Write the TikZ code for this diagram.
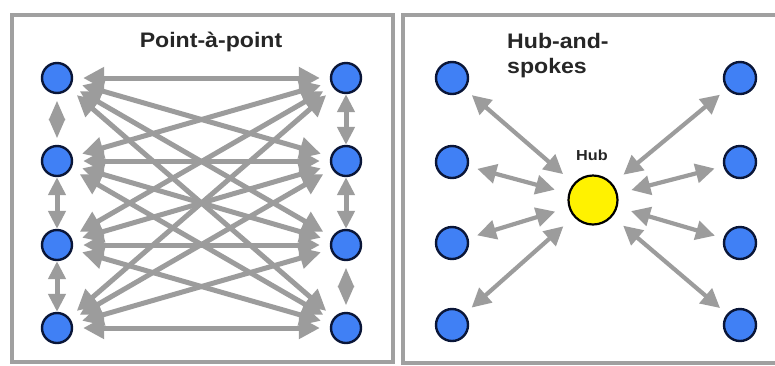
\documentclass[tikz,border=0pt]{standalone}
\usepackage{fontspec}
\setmainfont{Liberation Sans}
\usetikzlibrary{arrows.meta}
\definecolor{nodeblue}{HTML}{4080F5}
\definecolor{navy}{HTML}{0A1638}
\definecolor{arrgray}{HTML}{9C9C9C}
\definecolor{boxgray}{HTML}{A0A0A0}
\begin{document}
\begin{tikzpicture}[x=1pt,y=-1pt,
  dot/.style={circle,fill=nodeblue,draw=navy,line width=2.4pt,minimum size=30pt,inner sep=0pt},
  hubdot/.style={circle,fill=yellow,draw=black,line width=2.2pt,minimum size=49pt,inner sep=0pt},
  link/.style={draw=arrgray,line width=5pt,
    {Triangle[length=21pt,width=21pt]}-{Triangle[length=21pt,width=21pt]},
    shorten <=10pt, shorten >=10pt},
  vlink/.style={draw=arrgray,line width=5pt,
    {Triangle[length=18pt,width=17pt]}-{Triangle[length=18pt,width=17pt]}},
  diamondlink/.style={draw=arrgray,line width=5pt,
    {Triangle[length=20pt,width=15pt]}-{Triangle[length=20pt,width=15pt]},
    shorten <=6pt, shorten >=6pt},
  spoke/.style={draw=arrgray,line width=4.2pt,
    {Triangle[length=19pt,width=19pt]}-{Triangle[length=19pt,width=19pt]},
    shorten <=9pt, shorten >=14pt},
  title/.style={inner sep=0pt,font=\fontsize{21}{25}\selectfont\bfseries,text=black!85},
  panel/.style={draw=boxgray,line width=4.5pt}
]
\useasboundingbox (0,0) rectangle (775,365);
\fill[white] (0,0) rectangle (775,365);
% panels
\draw[panel] (12,15) rectangle (393,362);
\draw[panel] (403,15) rectangle (790,363);
% titles
\node[title,anchor=base] (pp) at (211,47) {\scalebox{1.1}[1]{Point-à-point}};
\node[title,anchor=base west] (hs) at (507,48)
  {\scalebox{1.1}[1]{\begin{tabular}[t]{@{}l@{}}Hub-and-\\spokes\end{tabular}}};
% left panel nodes
\node[dot] (L1) at (57,78) {};
\node[dot] (L2) at (57,161) {};
\node[dot] (L3) at (57,245) {};
\node[dot] (L4) at (57,328) {};
\node[dot] (R1) at (346,78) {};
\node[dot] (R2) at (346,161) {};
\node[dot] (R3) at (346,245) {};
\node[dot] (R4) at (346,328) {};
\foreach \i in {1,...,4}{
  \foreach \j in {1,...,4}{
    \draw[link] (L\i) -- (R\j);
  }
}
\draw[diamondlink] (L1) -- (L2);
\draw[vlink] (L2) -- (L3);
\draw[vlink] (L3) -- (L4);
\draw[vlink] (R1) -- (R2);
\draw[vlink] (R2) -- (R3);
\draw[diamondlink] (R3) -- (R4);
% right panel
\node[hubdot] (H) at (593,200) {};
\node[inner sep=0pt,anchor=base,font=\fontsize{14.5}{16}\selectfont\bfseries,text=black!85] (hl) at (592,160) {\scalebox{1.12}[1]{Hub}};
\node[dot,minimum size=32pt] (A1) at (452,78) {};
\node[dot,minimum size=32pt] (A2) at (452,162) {};
\node[dot,minimum size=32pt] (A3) at (452,243) {};
\node[dot,minimum size=32pt] (A4) at (452,325) {};
\node[dot,minimum size=32pt] (B1) at (740,78) {};
\node[dot,minimum size=32pt] (B2) at (740,162) {};
\node[dot,minimum size=32pt] (B3) at (740,243) {};
\node[dot,minimum size=32pt] (B4) at (740,325) {};
\foreach \k in {A1,A2,A3,A4,B1,B2,B3,B4}{
  \draw[spoke] (\k) -- (H);
}
\end{tikzpicture}
\end{document}
